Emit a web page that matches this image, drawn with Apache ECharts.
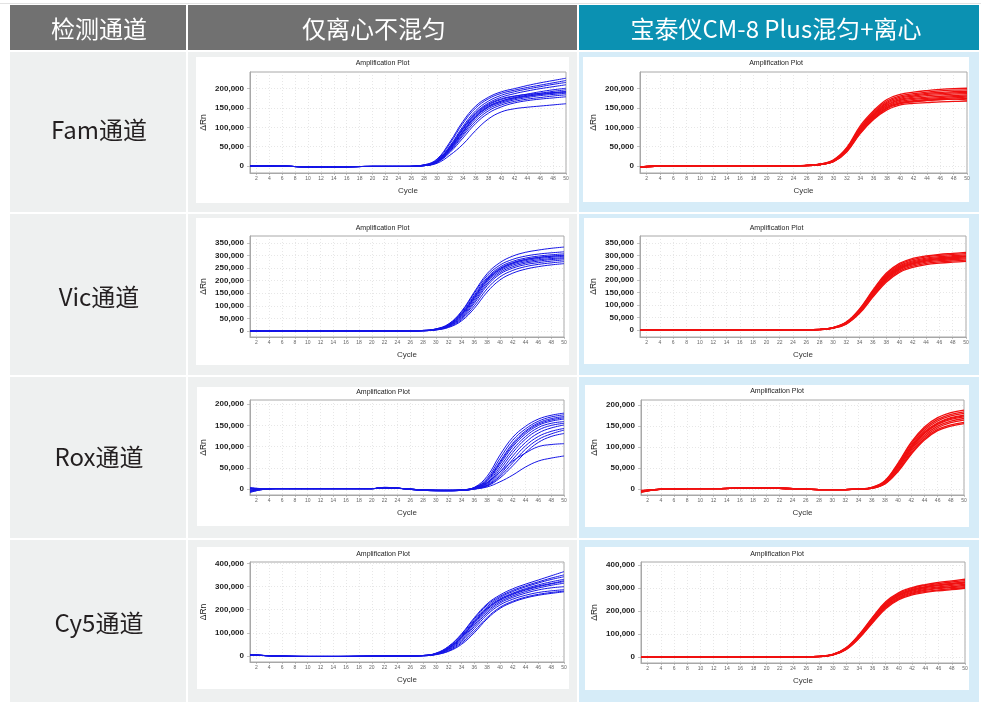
<!DOCTYPE html>
<html><head><meta charset="utf-8">
<script src="https://cdn.jsdelivr.net/npm/echarts@6/dist/echarts.min.js"></script>
<style>html,body{margin:0;padding:0;background:#fff}#c{width:981px;height:702px}</style>
</head><body><div id="c"></div><script>
// ---------- text ----------
const headerLabels = ['检测通道', '仅离心不混匀', '宝泰仪CM-8 Plus混匀+离心'];
const rowLabels = ['Fam通道', 'Vic通道', 'Rox通道', 'Cy5通道'];
const plotTitle = 'Amplification Plot';

// ---------- tick labels ----------
const xTicks = [2,4,6,8,10,12,14,16,18,20,22,24,26,28,30,32,34,36,38,40,42,44,46,48,50];
const famYTicks = [0,50000,100000,150000,200000];
const vicYTicks = [0,50000,100000,150000,200000,250000,300000,350000];
const roxYTicks = [0,50000,100000,150000,200000];
const cy5YTicks = [0,100000,200000,300000,400000];

// ---------- data (ΔRn in thousands, sampled at the listed cycles) ----------
const famCycles = [1,5,10,15,20,25,28,30,32,34,36,38,40,42,44,46,48,50];
const famBlue = [
 [0,0,-2,-2,-1,-1,3,18,62,115,155,178,192,200,208,215,221,227],
 [0,0,-2,-2,-1,-1,3,16,58,110,150,174,188,196,203,209,215,221],
 [0,0,-2,-2,-1,-1,2,14,52,102,143,168,183,192,199,205,211,216],
 [0,0,-2,-2,-1,-1,2,13,50,98,138,163,178,187,194,200,205,210],
 [0,0,-2,-2,-1,-1,2,12,47,94,133,158,172,180,186,192,197,201],
 [0,0,-2,-2,-1,-1,2,12,45,90,130,155,168,177,183,188,193,197],
 [0,0,-2,-2,-1,-1,1,11,42,86,126,152,165,174,180,185,189,193],
 [0,0,-2,-2,-1,-1,1,10,40,82,122,148,162,171,177,182,185,188],
 [0,0,-2,-2,-1,-1,1,10,38,78,116,143,158,167,173,177,181,184],
 [0,0,-2,-2,-1,-1,1,9,35,72,110,137,153,163,169,173,176,179],
 [0,0,-2,-2,-1,-1,1,7,28,56,92,122,140,148,152,155,158,161],
 [0,0,-2,-2,-1,-1,1,11,44,88,128,153,168,176,181,185,188,190],
 [0,0,-2,-2,-1,-1,2,13,48,96,136,160,174,181,185,188,190,192]
];
const famRed = [
 [-3,1,0,0,0,1,5,16,48,104,143,172,185,191,195,198,200,201],
 [-3,1,0,0,0,1,5,15,46,100,140,168,181,187,191,194,196,197],
 [-2,1,0,0,0,1,5,14,45,98,137,165,178,184,188,190,192,193],
 [-3,0,0,0,0,1,4,14,44,96,134,162,175,181,185,187,189,190],
 [-2,1,0,0,0,1,4,13,43,94,132,159,172,178,182,184,186,187],
 [-3,0,0,0,0,1,4,13,42,92,130,157,170,175,178,180,182,184],
 [-2,1,0,0,0,1,4,13,41,90,128,154,167,172,175,177,179,181],
 [-3,0,0,0,0,1,4,12,40,88,125,151,164,169,172,174,176,178],
 [-2,1,0,0,0,1,4,12,39,86,122,148,161,166,169,171,173,175],
 [-3,0,0,0,0,1,4,11,37,84,120,145,158,162,164,166,167,168],
 [-2,1,0,0,0,1,4,12,39,87,124,150,163,167,170,172,173,171]
];
const vicCycles = [1,5,10,15,20,25,28,30,32,34,36,38,40,42,44,46,48,50];
const vicBlue = [
 [0,0,0,0,0,0,2,8,28,78,155,228,272,298,313,322,329,334],
 [0,0,0,0,0,0,2,8,27,75,150,220,262,285,298,306,311,315],
 [0,0,0,0,0,0,2,7,25,70,142,212,254,277,290,298,303,307],
 [0,0,0,0,0,0,2,7,24,67,137,207,249,272,285,293,298,302],
 [0,0,0,0,0,0,1,6,22,62,130,200,243,267,280,288,293,297],
 [0,0,0,0,0,0,1,6,21,58,124,194,238,262,275,283,288,292],
 [0,0,0,0,0,0,1,5,19,54,117,187,232,256,270,278,284,288],
 [0,0,0,0,0,0,1,5,18,50,110,180,226,250,264,272,278,283],
 [0,0,0,0,0,0,1,4,16,45,100,168,215,241,256,265,271,276],
 [0,0,0,0,0,0,1,4,14,40,90,155,203,230,246,256,263,268],
 [0,0,0,0,0,0,1,6,22,64,133,203,246,270,284,292,297,300]
];
const vicRed = [
 [0,0,0,0,0,1,3,10,32,85,160,228,268,288,298,304,308,312],
 [0,0,0,0,0,1,3,10,31,82,156,223,263,283,294,300,304,307],
 [0,0,0,0,0,1,3,9,30,80,152,218,258,278,289,295,299,302],
 [0,0,0,0,0,1,3,9,29,78,149,214,254,274,285,291,295,298],
 [0,0,0,0,0,1,2,9,28,76,146,210,250,270,281,287,291,294],
 [0,0,0,0,0,1,2,8,27,74,143,206,246,266,277,283,287,290],
 [0,0,0,0,0,1,2,8,26,72,140,202,242,262,273,279,283,286],
 [0,0,0,0,0,1,2,8,25,70,136,197,237,257,268,274,278,281],
 [0,0,0,0,0,1,2,7,24,67,132,192,232,252,263,269,273,276],
 [0,0,0,0,0,1,2,8,27,75,145,208,248,268,280,287,292,296]
];
const roxCycles = [1,3,5,8,12,16,20,22,24,28,32,34,36,38,40,42,44,46,48,50];
const roxBlue = [
 [-3,0,1,1,1,1,1,3,2,-2,-3,-2,4,30,80,122,148,165,174,179],
 [2,0,1,1,1,1,1,3,2,-2,-3,-2,3,25,72,115,142,160,170,175],
 [-8,-1,1,1,1,1,1,4,2,-3,-4,-2,3,22,65,108,137,156,166,171],
 [4,1,1,1,1,1,1,3,2,-2,-3,-2,2,18,58,100,130,150,160,165],
 [-5,0,1,1,1,1,1,3,2,-3,-4,-3,2,15,52,93,124,145,155,159],
 [0,0,1,1,1,1,1,4,2,-2,-3,-3,1,13,46,86,118,139,150,155],
 [-6,-1,1,1,1,1,1,3,2,-3,-4,-3,1,11,40,78,110,132,144,151],
 [3,0,1,1,1,1,1,3,2,-2,-3,-3,1,9,34,70,102,124,136,143],
 [-4,0,1,1,1,1,1,3,2,-3,-4,-3,0,8,30,62,94,117,130,139],
 [1,0,1,1,1,1,1,3,2,-2,-3,-3,0,7,26,55,86,110,124,131],
 [-2,0,1,1,1,1,1,3,2,-2,-3,-2,2,15,40,66,85,100,105,107],
 [-7,-1,1,1,1,1,1,3,2,-3,-4,-3,0,5,17,33,52,66,73,78],
 [1,0,1,1,1,1,1,3,2,-2,-3,-2,3,20,62,104,134,153,163,168]
];
const roxRed = [
 [-6,-2,0,1,1,2,3,2,1,-1,-1,0,4,20,62,112,148,170,182,188],
 [-4,-1,0,1,1,2,3,2,1,-1,-1,0,4,19,60,108,144,166,178,184],
 [-7,-2,0,1,1,2,3,2,1,-1,-1,0,3,18,57,104,140,162,174,180],
 [-3,-1,0,1,1,2,3,2,1,-1,-1,0,3,17,55,101,136,158,170,176],
 [-6,-2,0,1,1,2,3,2,1,-1,-1,0,3,16,52,97,132,154,166,172],
 [-5,-1,0,1,1,2,3,2,1,-1,-1,0,3,15,50,94,128,150,162,168],
 [-8,-2,0,1,1,2,3,2,1,-1,-1,0,2,14,47,90,124,146,158,164],
 [-4,-1,0,1,1,2,3,2,1,-1,-1,0,2,13,44,86,120,142,153,159],
 [-6,-2,0,1,1,2,3,2,1,-1,-1,0,2,12,42,83,117,139,150,156],
 [-5,-1,0,1,1,2,3,2,1,-1,-1,0,3,16,54,99,134,156,168,174]
];
const cy5Cycles = [1,5,10,15,20,25,28,30,32,34,36,38,40,42,44,46,48,50];
const cy5Blue = [
 [5,0,-2,-2,-1,0,2,12,42,95,165,225,263,290,310,328,346,364],
 [5,0,-2,-2,-1,0,2,11,40,92,160,220,257,283,303,320,336,350],
 [6,0,-2,-2,-1,0,2,10,37,87,153,213,252,278,298,315,330,342],
 [4,0,-2,-2,-1,0,2,10,35,83,148,207,246,271,291,307,320,331],
 [5,0,-2,-2,-1,0,2,9,33,78,141,200,240,265,284,299,311,321],
 [5,0,-2,-2,-1,0,1,8,30,73,134,193,234,259,278,293,305,314],
 [6,0,-2,-2,-1,0,1,8,28,68,127,186,228,253,271,285,294,299],
 [4,0,-2,-2,-1,0,1,7,25,62,118,178,220,245,262,274,281,286],
 [5,0,-2,-2,-1,0,1,6,22,56,108,166,210,236,254,266,274,280],
 [5,0,-2,-2,-1,0,1,6,20,50,100,160,205,232,250,262,270,277],
 [5,0,-2,-2,-1,0,2,9,34,80,145,204,243,268,287,302,313,325]
];
const cy5Red = [
 [1,0,0,0,0,1,3,11,40,98,172,240,280,302,315,324,331,338],
 [1,0,0,0,0,1,3,11,39,96,169,236,276,298,311,319,326,332],
 [1,0,0,0,0,1,3,10,38,94,166,232,272,294,306,314,320,326],
 [1,0,0,0,0,1,3,10,37,92,163,228,268,290,302,310,316,321],
 [1,0,0,0,0,1,3,10,36,90,160,225,265,286,298,305,311,316],
 [1,0,0,0,0,1,2,9,35,88,157,221,261,282,294,301,306,311],
 [1,0,0,0,0,1,2,9,34,86,154,218,257,278,290,297,302,306],
 [1,0,0,0,0,1,2,9,33,84,151,214,253,274,285,292,297,301],
 [1,0,0,0,0,1,2,8,32,82,148,210,249,270,281,288,293,298],
 [1,0,0,0,0,1,3,10,37,93,164,230,270,292,304,312,319,324]
];

// ---------- layout / style ----------
const BLUE = '#1414e6', RED = '#f01010';
const panels = [
 {curves: famBlue, cycles: famCycles, color: BLUE, yMin: -18000, yMax: 243000, yTicks: famYTicks, grid: [250, 72, 316, 101], box: [196, 57, 373, 146], titleY: 63},
 {curves: famRed,  cycles: famCycles, color: RED,  yMin: -18000, yMax: 243000, yTicks: famYTicks, grid: [640, 72, 327, 101], box: [583, 57, 386, 145], titleY: 63},
 {curves: vicBlue, cycles: vicCycles, color: BLUE, yMin: -24000, yMax: 378000, yTicks: vicYTicks, grid: [250, 236, 314, 101], box: [196, 218, 373, 147], titleY: 228},
 {curves: vicRed,  cycles: vicCycles, color: RED,  yMin: -28000, yMax: 378000, yTicks: vicYTicks, grid: [640, 236, 326, 101], box: [584, 218, 385, 146], titleY: 228},
 {curves: roxBlue, cycles: roxCycles, color: BLUE, yMin: -14000, yMax: 210000, yTicks: roxYTicks, grid: [250, 400, 314, 95], box: [197, 387, 372, 139], titleY: 392.5},
 {curves: roxRed,  cycles: roxCycles, color: RED,  yMin: -14000, yMax: 212000, yTicks: roxYTicks, grid: [641, 400, 323, 95], box: [585, 385, 384, 142], titleY: 391},
 {curves: cy5Blue, cycles: cy5Cycles, color: BLUE, yMin: -26000, yMax: 405600, yTicks: cy5YTicks, grid: [250, 562, 314, 100], box: [197, 547, 372, 142], titleY: 554},
 {curves: cy5Red,  cycles: cy5Cycles, color: RED,  yMin: -26000, yMax: 413000, yTicks: cy5YTicks, grid: [641, 562, 324, 101], box: [585, 547, 384, 143], titleY: 554}
];

const CJK = '"Noto Sans CJK SC", "Noto Sans", sans-serif';
const LAT = '"Liberation Sans", Arial, sans-serif';
const colX = [[10, 176], [188, 389], [579, 400]];
const rowY = [[52, 160], [214, 161], [377, 161], [540, 162]];
const headerTextX = [99, 374, 776];
const rowTextY = [130, 297, 457, 623];

const graphic = [];
graphic.push({type: 'rect', z: -20, shape: {x: 0, y: 3, width: 981, height: 1}, style: {fill: '#e2e2e2'}});
const headFill = ['#717171', '#717171', '#0b91b2'];
colX.forEach((c, i) => {
  graphic.push({type: 'rect', z: -20, shape: {x: c[0], y: 5, width: c[1], height: 45}, style: {fill: headFill[i]}});
  graphic.push({type: 'text', z: 5, x: headerTextX[i], y: 29, style: {text: headerLabels[i], fill: '#fff', font: '24px ' + CJK, align: 'center', verticalAlign: 'middle'}});
  rowY.forEach(r => {
    graphic.push({type: 'rect', z: -20, shape: {x: c[0], y: r[0], width: c[1], height: r[1]}, style: {fill: i === 2 ? '#d6ecf8' : '#eef0f0'}});
  });
});
rowY.forEach((r, j) => {
  graphic.push({type: 'text', z: 5, x: 99, y: rowTextY[j], style: {text: rowLabels[j], fill: '#231f20', font: '24px ' + CJK, align: 'center', verticalAlign: 'middle'}});
});
panels.forEach(p => {
  graphic.push({type: 'rect', z: -10, shape: {x: p.box[0], y: p.box[1], width: p.box[2], height: p.box[3]}, style: {fill: '#fff'}});
  graphic.push({type: 'text', z: 5, x: p.box[0] + p.box[2] / 2, y: p.titleY, style: {text: plotTitle, fill: '#222', font: '7px ' + LAT, align: 'center', verticalAlign: 'middle'}});
});

const grids = [], xAxes = [], yAxes = [], series = [];
const fmt = v => v.toLocaleString('en-US');
panels.forEach((p, i) => {
  grids.push({left: p.grid[0], top: p.grid[1], width: p.grid[2], height: p.grid[3], show: true, backgroundColor: '#fff', borderColor: '#a8a8a8', borderWidth: 1, containLabel: false});
  xAxes.push({
    type: 'value', gridIndex: i, min: 1, max: 50,
    name: 'Cycle', nameLocation: 'middle', nameGap: 14,
    nameTextStyle: {fontSize: 8, color: '#333', fontFamily: LAT},
    axisLine: {show: true, onZero: false, lineStyle: {color: '#a8a8a8', width: 1}},
    axisTick: {show: true, customValues: xTicks, length: 2, lineStyle: {color: '#999', width: 0.6}},
    axisLabel: {customValues: xTicks, fontSize: 5, color: '#666', margin: 3, fontFamily: LAT},
    splitLine: {show: true, lineStyle: {type: [1, 2], color: '#d6d6d6', width: 0.6}}
  });
  yAxes.push({
    type: 'value', gridIndex: i, min: p.yMin, max: p.yMax,
    name: 'ΔRn', nameLocation: 'middle', nameGap: 42, nameRotate: 90,
    nameTextStyle: {fontSize: 8.5, color: '#222', fontFamily: LAT},
    axisLine: {show: true, lineStyle: {color: '#a8a8a8', width: 1}},
    axisTick: {show: true, customValues: p.yTicks, length: 3, lineStyle: {color: '#999', width: 0.6}},
    axisLabel: {customValues: p.yTicks, formatter: fmt, fontSize: 8, fontWeight: 'bold', color: '#222', margin: 6, fontFamily: LAT},
    splitLine: {show: true, lineStyle: {type: [1, 2], color: '#d6d6d6', width: 0.6}}
  });
  p.curves.forEach(curve => {
    series.push({
      type: 'line', xAxisIndex: i, yAxisIndex: i,
      data: p.cycles.map((c, k) => [c, curve[k] * 1000]),
      showSymbol: false, smooth: 0.4, silent: true,
      lineStyle: {color: p.color, width: p.color === RED ? 1.3 : 1}, itemStyle: {color: p.color}
    });
  });
});

const chart = echarts.init(document.getElementById('c'), null, {renderer: 'canvas'});
chart.setOption({
  animation: false, backgroundColor: '#fff',
  graphic: graphic, grid: grids, xAxis: xAxes, yAxis: yAxes, series: series
});
</script></body></html>
